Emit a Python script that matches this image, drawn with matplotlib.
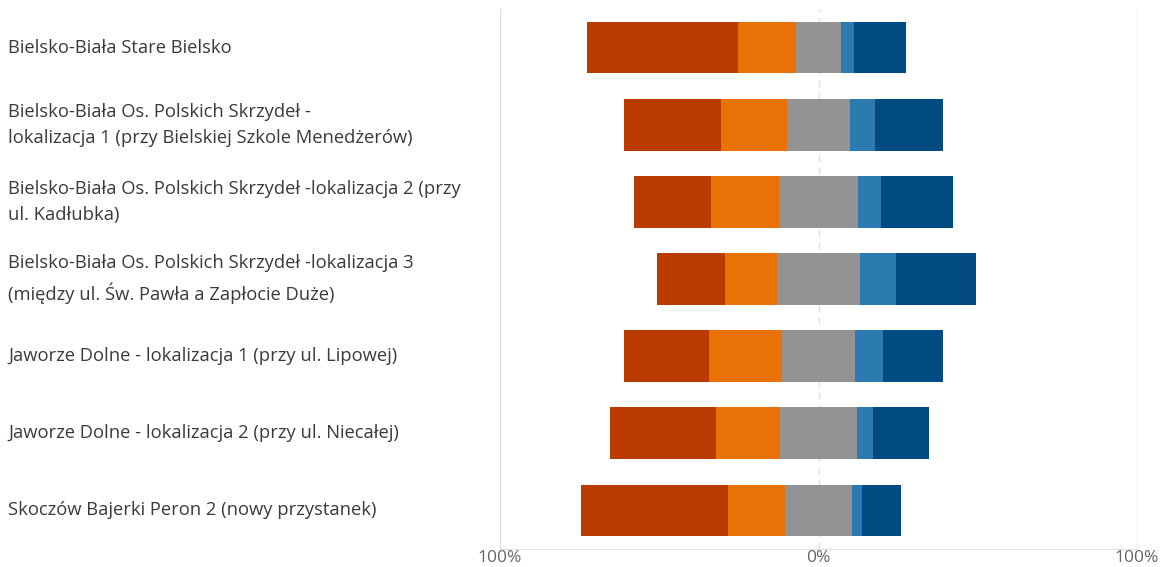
import numpy as np
import matplotlib.pyplot as plt
from matplotlib.transforms import blended_transform_factory

plt.rcParams['font.family'] = ['Open Sans', 'DejaVu Sans']

labels = [
    "Bielsko-Biała Stare Bielsko",
    "Bielsko-Biała Os. Polskich Skrzydeł -\nlokalizacja 1 (przy Bielskiej Szkole Menedżerów)",
    "Bielsko-Biała Os. Polskich Skrzydeł -lokalizacja 2 (przy\nul. Kadłubka)",
    "Bielsko-Biała Os. Polskich Skrzydeł -lokalizacja 3\n(między ul. Św. Pawła a Zapłocie Duże)",
    "Jaworze Dolne - lokalizacja 1 (przy ul. Lipowej)",
    "Jaworze Dolne - lokalizacja 2 (przy ul. Niecałej)",
    "Skoczów Bajerki Peron 2 (nowy przystanek)",
]

# shares in %, from most negative to most positive answer
very_neg = [47.5, 30.3, 24.2, 21.6, 26.8, 33.3, 45.9]
neg      = [18.2, 20.7, 21.1, 16.1, 22.8, 20.2, 18.0]
neutral  = [14.0, 20.0, 25.1, 26.2, 23.0, 24.2, 21.1]
pos      = [4.0,  7.6,  7.1,  11.1, 8.6,  5.0,  3.0]
very_pos = [16.5, 21.5, 22.6, 25.1, 19.0, 17.6, 12.3]

colors = ["#BA3A00", "#EA7105", "#939393", "#2C7BB0", "#024A82"]
series = [very_neg, neg, neutral, pos, very_pos]

fig = plt.figure(figsize=(11.65, 5.67), dpi=100)
ax = fig.add_axes([500 / 1165, 1 - 549 / 567, 637 / 1165, 540 / 567])

y = np.arange(len(labels))
left = -(np.array(very_neg) + np.array(neg) + np.array(neutral) / 2)
for vals, c in zip(series, colors):
    ax.barh(y, vals, left=left, height=0.67, color=c, zorder=3)
    left = left + np.array(vals)

ax.set_xlim(-100, 100)
ax.set_ylim(len(labels) - 0.5, -0.5)

ax.axvline(0, color="#e0e0e0", lw=1, ls=(0, (5, 4)), zorder=1)
ax.axvline(-100, color="#dddddd", lw=1, zorder=1)
ax.axvline(100, color="#dddddd", lw=1, zorder=1)

for s in ["top", "left", "right"]:
    ax.spines[s].set_visible(False)
ax.spines["bottom"].set_color("#e0e0e0")

ax.set_yticks([])
ax.set_xticks([-100, 0, 100])
ax.set_xticklabels(["100%", "0%", "100%"], color="#666666", fontsize=12.5)
ax.tick_params(axis="x", length=0, pad=1)

tr = blended_transform_factory(fig.transFigure, ax.transData)
for yi, lab in zip(y, labels):
    ax.text(8 / 1165, yi, lab, transform=tr, ha="left", va="center",
            fontsize=13.2, color="#3a3a3a", linespacing=1.6)

fig.savefig("out.png")
